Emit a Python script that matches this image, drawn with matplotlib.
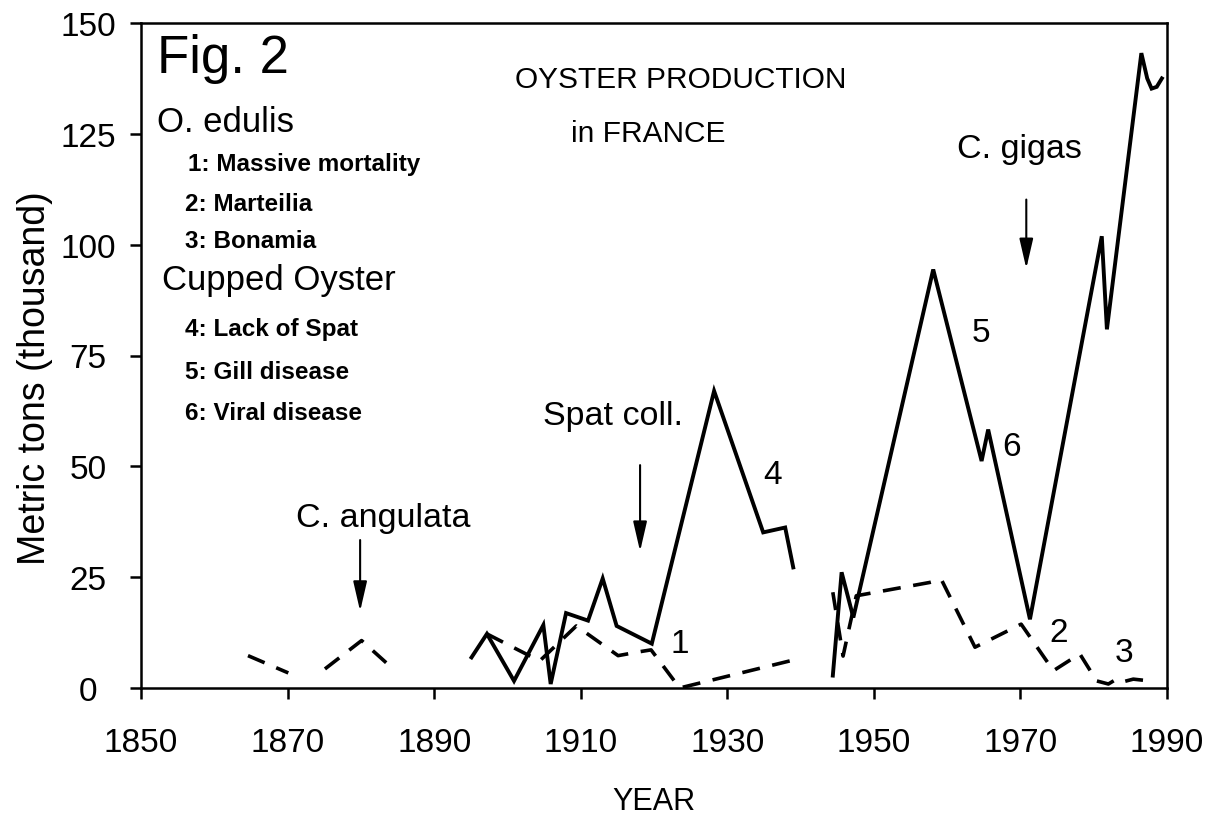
import numpy as np
import matplotlib
matplotlib.use("Agg")
import matplotlib.pyplot as plt

plt.rcParams['font.family'] = ['Liberation Sans', 'DejaVu Sans']

nan = np.nan

# Cupped oyster production (solid), thousand metric tons
solid_years = [1895.1, 1897.2, 1900.9, 1904.9, 1905.9, 1908.0, 1911.0, 1913.0, 1914.9,
               1919.7, 1928.2, 1934.9, 1937.9, 1939.0, nan,
               1944.4, 1945.6, 1947.2, 1958.1, 1964.7, 1965.6, 1971.3, 1981.1, 1981.8,
               1986.5, 1987.3, 1987.9, 1988.6, 1989.3]
solid_values = [6.9, 12.2, 1.6, 14.2, 0.9, 16.9, 15.2, 24.7, 14.0,
                10.0, 67.0, 35.1, 36.2, 27.2, nan,
                2.8, 26.1, 15.9, 94.4, 51.2, 58.3, 15.5, 101.9, 80.9,
                143.2, 137.5, 135.2, 135.6, 137.5]

# O. edulis production (dashed)
dashed_years = [1864.6, 1870.1, nan, 1875.1, 1880.1, 1884.4, nan,
                1897.2, 1904.4, 1909.4, 1915.1, 1918.1, 1919.6, 1923.5, 1939.0, nan,
                1944.4, 1945.8, 1946.6, 1947.6, 1957.6, 1959.2, 1963.8, 1970.1, 1974.5,
                1978.1, 1980.4, 1982.0, 1983.1, 1984.0, 1985.4, 1987.6]
dashed_values = [7.3, 3.4, nan, 4.3, 10.7, 4.3, nan,
                 12.2, 6.1, 14.0, 7.3, 8.2, 8.6, 0.0, 6.3, nan,
                 21.6, 7.2, 13.3, 20.8, 23.8, 24.5, 9.2, 14.4, 3.9,
                 7.7, 1.6, 0.9, 2.0, 1.4, 2.0, 1.6]

x_ticks = [1850, 1870, 1890, 1910, 1930, 1950, 1970, 1990]
y_ticks = [0, 25, 50, 75, 100, 125, 150]

legend_lines = [
    ("O. edulis", 1852.2, 125.7, 25, 'normal'),
    ("1: Massive mortality", 1856.4, 116.9, 17.5, 'bold'),
    ("2: Marteilia", 1856.0, 107.9, 17.5, 'bold'),
    ("3: Bonamia", 1856.0, 99.5, 17.5, 'bold'),
    ("Cupped Oyster", 1852.9, 89.9, 25, 'normal'),
    ("4: Lack of Spat", 1856.0, 79.7, 17.5, 'bold'),
    ("5: Gill disease", 1856.0, 70.0, 17.5, 'bold'),
    ("6: Viral disease", 1856.0, 60.6, 17.5, 'bold'),
]

event_numbers = [("1", 1923.5, 10.1), ("4", 1936.2, 48.2), ("5", 1964.6, 80.2),
                 ("6", 1968.8, 54.5), ("2", 1975.2, 12.6), ("3", 1984.1, 8.1)]

# (label, label x, label y, arrow x, arrow top, arrow tip)
arrows = [("C. angulata", 1883.0, 36.5, 1879.9, 34.0, 16.7),
          ("Spat coll.", 1914.4, 59.5, 1918.1, 50.9, 30.2),
          ("C. gigas", 1969.8, 119.8, 1970.8, 110.8, 94.0)]

fig = plt.figure(figsize=(12.15, 8.28), dpi=100)
ax = fig.add_axes([141 / 1215, (828 - 689) / 828, (1167 - 141) / 1215, (689 - 24) / 828])

ax.plot(solid_years, solid_values, color='black', lw=2.8, solid_joinstyle='miter')
ax.plot(dashed_years, dashed_values, color='black', lw=2.6, dashes=(5, 3.5))

ax.set_xlim(1850, 1990)
ax.set_ylim(0, 150)
ax.set_xticks(x_ticks)
ax.set_yticks(y_ticks)

for s in ax.spines.values():
    s.set_linewidth(1.8)
ax.tick_params(axis='both', direction='out', length=8, width=1.8, labelsize=24)
ax.tick_params(axis='x', pad=20)
ax.tick_params(axis='y', pad=30)
for lab in ax.get_yticklabels():
    lab.set_horizontalalignment('center')

ax.set_xlabel("YEAR", fontsize=22, labelpad=20)
ax.set_ylabel("Metric tons (thousand)", fontsize=27)
ax.yaxis.set_label_coords(-0.086, 0.468)

ax.text(1852.2, 139.0, "Fig. 2", fontsize=38, va='baseline', ha='left')
ax.text(1923.7, 135.6, "OYSTER PRODUCTION", fontsize=21.5, va='baseline', ha='center')
ax.text(1919.2, 123.4, "in FRANCE", fontsize=21.5, va='baseline', ha='center')

for txt, x, y, size, weight in legend_lines:
    ax.text(x, y, txt, fontsize=size, fontweight=weight, va='baseline', ha='left')

for txt, x, y in event_numbers:
    ax.text(x, y, txt, fontsize=24, va='center', ha='center')

for txt, lx, ly, ax_x, top, tip in arrows:
    ax.text(lx, ly, txt, fontsize=24.5, va='baseline', ha='center')
    ax.annotate("", xy=(ax_x, tip), xytext=(ax_x, top),
                arrowprops=dict(arrowstyle='-|>,head_length=1.3,head_width=0.3',
                                color='black', lw=1.5, mutation_scale=14))

fig.savefig("out.png", dpi=100)
